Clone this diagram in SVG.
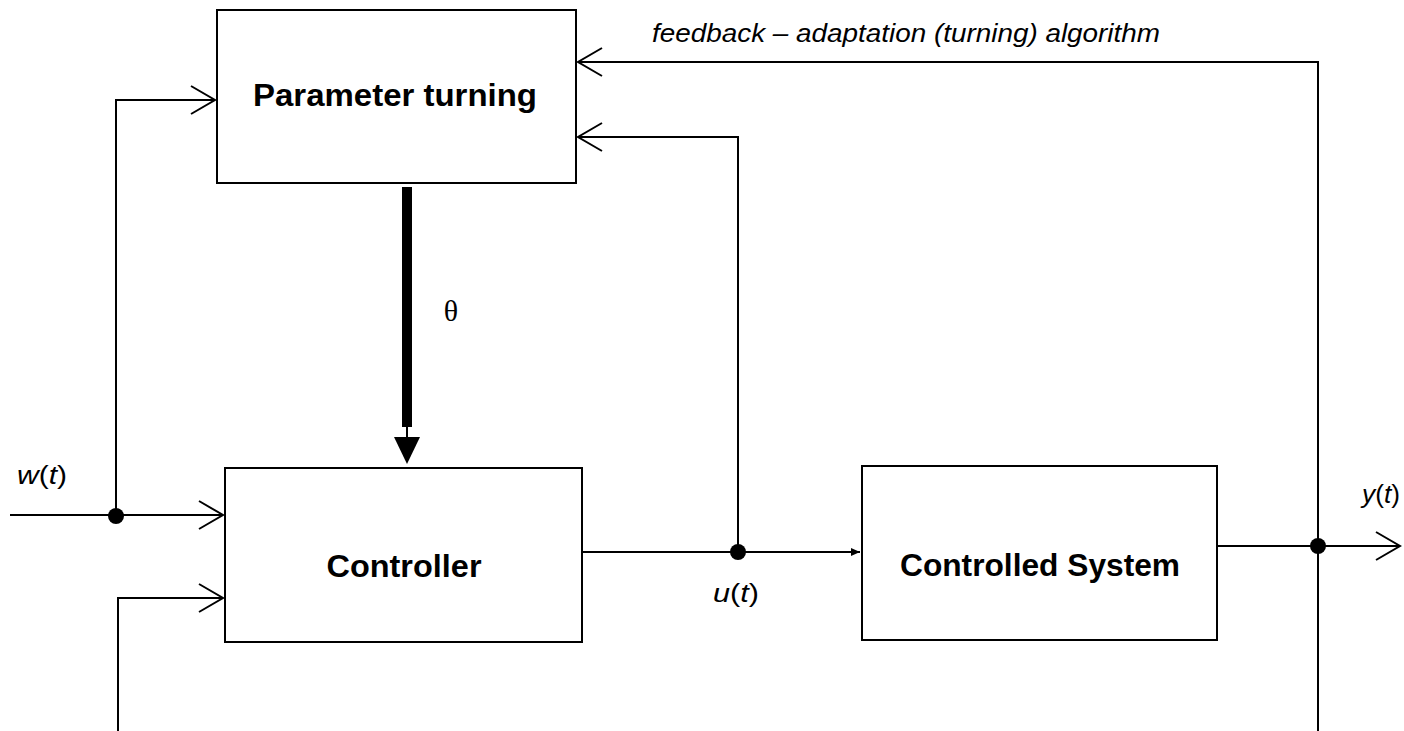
<svg xmlns="http://www.w3.org/2000/svg" width="1404" height="731" viewBox="0 0 1404 731">
<style>
.box{fill:#fff;stroke:#000;stroke-width:2}
.ln{fill:none;stroke:#000;stroke-width:2}
.lbl{font-family:"Liberation Sans",Arial,sans-serif;font-weight:bold;font-size:32px;fill:#000}
.sig{font-family:"Liberation Sans",Arial,sans-serif;font-size:26px;fill:#000}
.it{font-style:italic}
</style>
<defs>
<marker id="open" markerUnits="userSpaceOnUse" markerWidth="28" markerHeight="32" viewBox="0 0 28 32" refX="26" refY="16" orient="auto">
<path d="M2,2 L26,16 L2,30" fill="none" stroke="#000" stroke-width="2"/>
</marker>
<marker id="small" markerUnits="userSpaceOnUse" markerWidth="10" markerHeight="10" viewBox="0 0 10 10" refX="9" refY="5" orient="auto">
<path d="M0,1 L9,5 L0,9 z" fill="#000"/>
</marker>
</defs>
<rect width="1404" height="731" fill="#fff"/>
<g id="connectors">
<polyline class="ln" points="10,515 223,515" marker-end="url(#open)"/>
<polyline class="ln" points="116,516 116,100 215,100" marker-end="url(#open)"/>
<polyline class="ln" points="118,731 118,598 223,598" marker-end="url(#open)"/>
<polyline class="ln" points="582,552 860,552" marker-end="url(#small)"/>
<polyline class="ln" points="738,552 738,137 578,137" marker-end="url(#open)"/>
<polyline class="ln" points="1318,731 1318,62 578,62" marker-end="url(#open)"/>
<polyline class="ln" points="1217,546 1400,546" marker-end="url(#open)"/>
<line x1="407" y1="187" x2="407" y2="427" stroke="#000" stroke-width="10"/>
<line x1="407" y1="426" x2="407" y2="440" stroke="#000" stroke-width="2"/>
<polygon points="394,437 420,437 407,464" fill="#000"/>
<circle cx="116" cy="516" r="8"/>
<circle cx="738" cy="552" r="8"/>
<circle cx="1318" cy="546" r="8"/>
</g>
<g id="param">
<rect class="box" x="217" y="10" width="359" height="173"/>
<text class="lbl" x="395" y="106" text-anchor="middle" textLength="284" lengthAdjust="spacingAndGlyphs">Parameter turning</text>
</g>
<g id="controller">
<rect class="box" x="225" y="468" width="357" height="174"/>
<text class="lbl" x="404" y="577" text-anchor="middle" textLength="155" lengthAdjust="spacingAndGlyphs">Controller</text>
</g>
<g id="system">
<rect class="box" x="862" y="466" width="355" height="174"/>
<text class="lbl" x="1040" y="576" text-anchor="middle" textLength="280" lengthAdjust="spacingAndGlyphs">Controlled System</text>
</g>
<g id="labels">
<text class="sig it" x="652" y="42" font-size="24" textLength="508" lengthAdjust="spacingAndGlyphs">feedback – adaptation (turning) algorithm</text>
<text class="sig" x="17" y="484" textLength="50" lengthAdjust="spacingAndGlyphs"><tspan class="it">w</tspan>(<tspan class="it">t</tspan>)</text>
<text class="sig" x="713" y="602" textLength="46" lengthAdjust="spacingAndGlyphs"><tspan class="it">u</tspan>(<tspan class="it">t</tspan>)</text>
<text class="sig" x="1362" y="503" textLength="38" lengthAdjust="spacingAndGlyphs"><tspan class="it">y</tspan>(<tspan class="it">t</tspan>)</text>
<text x="451" y="321" text-anchor="middle" font-family="Liberation Serif,serif" font-size="30">θ</text>
</g>
</svg>
